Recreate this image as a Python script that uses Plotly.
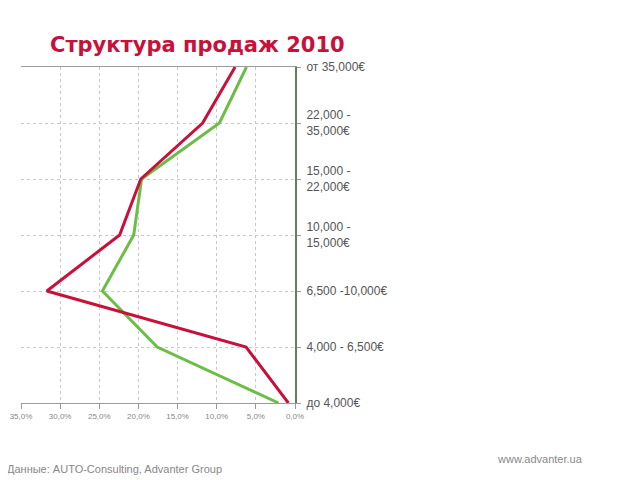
import plotly.graph_objects as go

categories = ["до 4,000€", "4,000 - 6,500€", "6,500 -10,000€", "10,000 -<br>15,000€",
              "15,000 -<br>22,000€", "22,000 -<br>35,000€", "от 35,000€"]
series_red = [0.85, 6.25, 31.7, 22.4, 19.7, 11.8, 7.65]
series_green = [2.1, 17.6, 24.6, 20.6, 19.6, 9.65, 6.2]
x_ticks = [0, 5, 10, 15, 20, 25, 30, 35]
x_tick_labels = ["0,0%", "5,0%", "10,0%", "15,0%", "20,0%", "25,0%", "30,0%", "35,0%"]

# browser body margin offset (8px)
OFF = 8
W, H = 640 - OFF, 480 - OFF
# plot area at window px x 21..295, y 67..403
L = 21 - OFF
T = 67 - OFF
R = W - (295 - OFF)
B = H - (403 - OFF)
PW = W - L - R
PH = H - T - B


def px_to_paper(px, py):
    """window pixel -> paper coords"""
    fx = px - OFF
    fy = py - OFF
    return (fx - L) / PW, (H - B - fy) / PH


fig = go.Figure()
fig.add_trace(go.Scatter(x=series_green, y=categories, mode="lines", name="green",
                         line=dict(color="#6cbd45", width=3)))
fig.add_trace(go.Scatter(x=series_red, y=categories, mode="lines", name="red",
                         line=dict(color="#c8103a", width=3)))

tx, ty = px_to_paper(48, 45)
fx, fy = px_to_paper(5, 469)
wx, wy = px_to_paper(495, 459)

fig.update_layout(
    width=W, height=H,
    margin=dict(l=L, r=R, t=T, b=B, autoexpand=False),
    paper_bgcolor="white", plot_bgcolor="white",
    showlegend=False,
    font=dict(family="Liberation Sans, Arial", color="#555555"),
    xaxis=dict(
        range=[35, 0], tickvals=x_ticks, ticktext=x_tick_labels,
        showgrid=True, gridcolor="#c8c8c8", griddash="dot", gridwidth=1,
        showline=True, linecolor="#9a9a9a", linewidth=1, mirror=True,
        ticks="outside", ticklen=5, tickcolor="#9a9a9a",
        tickfont=dict(size=8, color="#888888"), zeroline=False,
    ),
    yaxis=dict(
        type="category", categoryorder="array", categoryarray=categories,
        range=[0, 6], side="right",
        showgrid=True, gridcolor="#c8c8c8", griddash="dot", gridwidth=1,
        showline=True, linecolor="#5f7f5f", linewidth=2,
        ticks="outside", ticklen=4, tickcolor="#9a9a9a",
        ticklabelstandoff=3,
        tickfont=dict(size=12, color="#555555"), zeroline=False,
    ),
    annotations=[
        dict(text="<b>Структура продаж 2010</b>", x=tx, y=ty, xref="paper", yref="paper",
             showarrow=False, font=dict(family="DejaVu Sans", size=21, color="#c8103a"),
             xanchor="left", yanchor="middle"),
        dict(text="Данные: AUTO-Consulting, Advanter Group", x=fx, y=fy,
             xref="paper", yref="paper",
             showarrow=False, font=dict(size=11, color="#888888"),
             xanchor="left", yanchor="middle"),
        dict(text="www.advanter.ua", x=wx, y=wy, xref="paper", yref="paper",
             showarrow=False, font=dict(size=11, color="#888888"),
             xanchor="left", yanchor="middle"),
    ],
)

fig.write_html("out.html")
